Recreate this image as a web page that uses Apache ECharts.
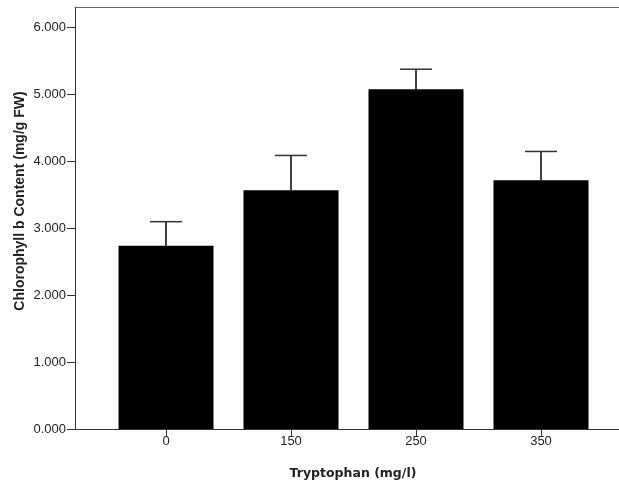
<!DOCTYPE html>
<html>
<head>
<meta charset="utf-8">
<script src="https://cdn.jsdelivr.net/npm/echarts@6/dist/echarts.min.js"></script>
<style>
  html, body { margin: 0; padding: 0; background: #fff; }
  #chart { width: 619px; height: 488px; }
</style>
</head>
<body>
<div id="chart"></div>
<script>
// data
const categories = ['0', '150', '250', '350']
const meanValues = [2.74, 3.57, 5.08, 3.72]
const errorTops = [3.10, 4.09, 5.38, 4.15]
const yTicks = [0, 1, 2, 3, 4, 5, 6]

const axisColor = '#333'
const textColor = '#222'
const font = 'Arial, "Liberation Sans", sans-serif'

const catIdx = categories.map((c, i) => i)

const chart = echarts.init(document.getElementById('chart'))

chart.setOption({
  animation: false,
  grid: { left: 75, top: 7, right: 0, bottom: 59 },
  xAxis: [
    {
      type: 'value',
      min: -0.728,
      max: 3.624,
      name: 'Tryptophan (mg/l)',
      nameLocation: 'middle',
      nameGap: 38,
      nameTextStyle: {
        fontFamily: '"DejaVu Sans", sans-serif', fontSize: 12.5, fontWeight: 'bold', color: textColor,
        padding: [0, 0, 0, 12]
      },
      splitLine: { show: false },
      axisLine: { lineStyle: { color: axisColor, width: 1 } },
      axisTick: { customValues: catIdx, length: 7, lineStyle: { color: axisColor } },
      axisLabel: {
        customValues: catIdx,
        formatter: v => categories[Math.round(v)],
        fontFamily: font, fontSize: 13, color: textColor, margin: 6
      }
    },
    {
      // top frame line
      type: 'value',
      position: 'top',
      min: -0.728,
      max: 3.624,
      axisLine: { show: true, onZero: false, lineStyle: { color: '#666', width: 1 } },
      axisTick: { show: false },
      axisLabel: { show: false },
      splitLine: { show: false }
    }
  ],
  yAxis: {
    type: 'value',
    min: 0,
    max: 6.31,
    name: 'Chlorophyll b Content (mg/g FW)',
    nameLocation: 'middle',
    nameGap: 48,
    nameMoveOverlap: false,
    nameTextStyle: {
      fontFamily: font, fontSize: 14, fontWeight: 'bold', color: textColor,
      padding: [0, 0, 0, 34]
    },
    splitLine: { show: false },
    axisLine: { show: true, onZero: false, lineStyle: { color: axisColor, width: 1 } },
    axisTick: { show: true, customValues: yTicks, length: 8, lineStyle: { color: axisColor } },
    axisLabel: {
      customValues: yTicks,
      formatter: v => v.toFixed(3),
      fontFamily: font, fontSize: 13, color: textColor, margin: 9
    }
  },
  series: [
    {
      type: 'bar',
      barWidth: 95,
      itemStyle: { color: '#000' },
      data: meanValues.map((v, i) => [i, v])
    },
    {
      type: 'custom',
      z: 5,
      data: meanValues.map((v, i) => [i, v, errorTops[i]]),
      renderItem: function(params, api) {
        const base = api.coord([api.value(0), api.value(1)])
        const top = api.coord([api.value(0), api.value(2)])
        const half = 16
        return {
          type: 'group',
          children: [
            {
              type: 'line',
              shape: { x1: top[0], y1: base[1], x2: top[0], y2: top[1] },
              style: { stroke: '#000', lineWidth: 1.5 }
            },
            {
              type: 'line',
              shape: { x1: top[0] - half, y1: top[1], x2: top[0] + half, y2: top[1] },
              style: { stroke: '#333', lineWidth: 1.5 }
            }
          ]
        }
      }
    }
  ]
})
</script>
</body>
</html>
